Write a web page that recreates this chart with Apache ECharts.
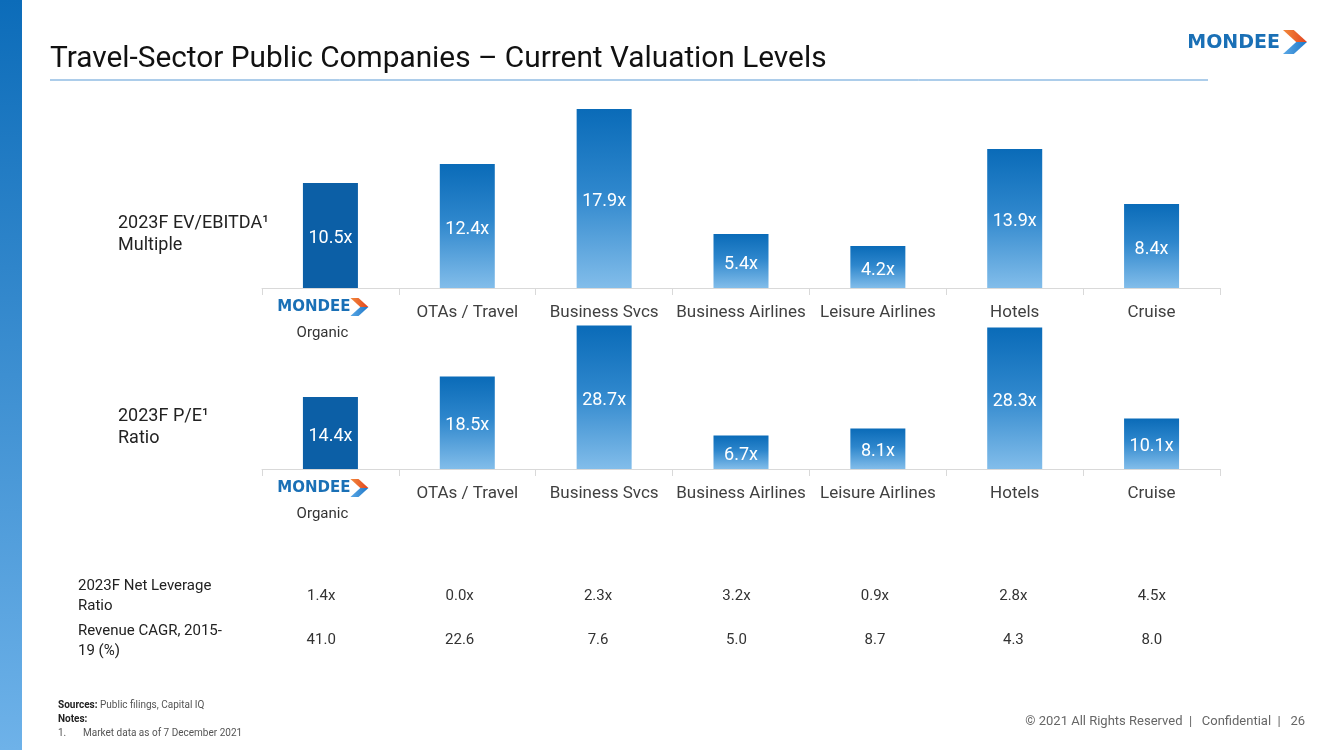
<!DOCTYPE html>
<html>
<head>
<meta charset="utf-8">
<script src="https://cdn.jsdelivr.net/npm/echarts@6/dist/echarts.min.js"></script>
<style>
html,body{margin:0;padding:0;background:#fff;}
#chart{width:1333px;height:750px;}
</style>
</head>
<body>
<div id="chart"></div>
<script>
// ---- data ----
var categories = ['Mondee Organic', 'OTAs / Travel', 'Business Svcs', 'Business Airlines', 'Leisure Airlines', 'Hotels', 'Cruise'];
var evEbitda = [10.5, 12.4, 17.9, 5.4, 4.2, 13.9, 8.4];
var peRatio = [14.4, 18.5, 28.7, 6.7, 8.1, 28.3, 10.1];
var netLeverage = ['1.4x', '0.0x', '2.3x', '3.2x', '0.9x', '2.8x', '4.5x'];
var revenueCagr = ['41.0', '22.6', '7.6', '5.0', '8.7', '4.3', '8.0'];
var chartTitle = 'Travel-Sector Public Companies \u2013 Current Valuation Levels';

var FONT = 'Roboto';
var chart = echarts.init(document.getElementById('chart'), null, {renderer: 'canvas'});

var barGrad = new echarts.graphic.LinearGradient(0, 0, 0, 1, [
  {offset: 0, color: '#0a6bb8'},
  {offset: 0.45, color: '#2d86cc'},
  {offset: 1, color: '#82bdea'}
]);
var mondeeColor = '#0c5fa6';

function barData(vals) {
  return vals.map(function (v, i) {
    return {value: v, itemStyle: {color: i === 0 ? mondeeColor : barGrad}};
  });
}

function catAxis(gridIndex) {
  return {
    type: 'category', gridIndex: gridIndex, data: categories,
    axisLine: {show: true, lineStyle: {color: '#d9d9d9', width: 1}},
    axisTick: {show: true, length: 7, lineStyle: {color: '#d9d9d9'}},
    axisLabel: {
      color: '#404040', fontFamily: FONT, fontSize: 17, margin: 16, interval: 0,
      formatter: function (v, i) { return i === 0 ? '' : v; }
    }
  };
}
function tableAxis(gridIndex, vals) {
  return {
    type: 'category', gridIndex: gridIndex, data: vals,
    axisLine: {show: false}, axisTick: {show: false},
    axisLabel: {color: '#333', fontFamily: FONT, fontSize: 15, margin: 0, interval: 0}
  };
}
var labelStyle = {
  show: true, position: 'inside', color: '#fff', fontFamily: FONT,
  fontSize: 18, fontWeight: 'normal', offset: [0, 3],
  formatter: function (p) { return p.value.toFixed(1) + 'x'; }
};

var option = {
  animation: false,
  backgroundColor: '#fff',
  grid: [
    {left: 262, right: 113, top: 108, height: 180},
    {left: 262, right: 113, top: 319, height: 150},
    {left: 252, right: 112, top: 588, height: 1},
    {left: 252, right: 112, top: 632, height: 1}
  ],
  xAxis: [catAxis(0), catAxis(1), tableAxis(2, netLeverage), tableAxis(3, revenueCagr)],
  yAxis: [
    {type: 'value', gridIndex: 0, min: 0, max: 18, show: false},
    {type: 'value', gridIndex: 1, min: 0, max: 30, show: false},
    {type: 'value', gridIndex: 2, show: false},
    {type: 'value', gridIndex: 3, show: false}
  ],
  series: [
    {type: 'bar', xAxisIndex: 0, yAxisIndex: 0, barWidth: 55, data: barData(evEbitda), label: labelStyle},
    {type: 'bar', xAxisIndex: 1, yAxisIndex: 1, barWidth: 55, data: barData(peRatio), label: labelStyle}
  ]
};
chart.setOption(option);

function chevron(x, y, s) {
  var h = s, w = s;
  return [
    {type: 'polygon', shape: {points: [[x, y], [x + w * 0.45, y], [x + w, y + h / 2], [x + w * 0.55, y + h / 2]]},
     style: {fill: new echarts.graphic.LinearGradient(0, 0, 1, 0, [{offset: 0, color: '#f28a3c'}, {offset: 1, color: '#e2431f'}])}},
    {type: 'polygon', shape: {points: [[x + w * 0.55, y + h / 2], [x + w, y + h / 2], [x + w * 0.45, y + h], [x, y + h]]},
     style: {fill: new echarts.graphic.LinearGradient(0, 0, 1, 0, [{offset: 0, color: '#5aa8e6'}, {offset: 1, color: '#1f78c8'}])}}
  ];
}

var g = [];
// left stripe
g.push({type: 'rect', shape: {x: 0, y: 0, width: 22, height: 750},
  style: {fill: new echarts.graphic.LinearGradient(0, 0, 0, 1, [{offset: 0, color: '#0c6cb9'}, {offset: 1, color: '#6eb2e9'}])}});
// title
g.push({type: 'text', x: 50, y: 60, style: {text: chartTitle, fill: '#111', font: '29.8px ' + FONT, verticalAlign: 'middle'}});
g.push({type: 'line', shape: {x1: 50, y1: 80, x2: 1208, y2: 80}, style: {stroke: '#5b9bd5', lineWidth: 1}});
// header logo
g.push({type: 'text', x: 1280, y: 43, style: {text: 'MONDEE', fill: '#1a70b6', font: 'bold 19px "DejaVu Sans"', align: 'right', verticalAlign: 'middle'}});
g = g.concat(chevron(1283, 30, 24));

// axis logos for first category
[0, 1].forEach(function (ai) {
  var px = chart.convertToPixel({xAxisIndex: ai}, categories[0]);
  var baseY = ai === 0 ? 288 : 469;
  var ly = baseY + 19, oy = baseY + 45;
  g.push({type: 'text', x: px + 20, y: ly, style: {text: 'MONDEE', fill: '#1a70b6', font: 'bold 15px "DejaVu Sans"', align: 'right', verticalAlign: 'middle'}});
  g = g.concat(chevron(px + 20, ly - 9, 18));
  g.push({type: 'text', x: px - 8, y: oy, style: {text: 'Organic', fill: '#333', font: '15px ' + FONT, align: 'center', verticalAlign: 'middle'}});
});

// row labels
function leftLabel(x, y, lines, fs, lh) {
  g.push({type: 'text', x: x, y: y, style: {text: lines.join('\n'), fill: '#222', font: fs + 'px ' + FONT, lineHeight: lh, verticalAlign: 'middle'}});
}
leftLabel(118, 234, ['2023F EV/EBITDA\u00b9', 'Multiple'], 18, 22);
leftLabel(118, 427, ['2023F P/E\u00b9', 'Ratio'], 18, 22);
leftLabel(78, 596, ['2023F Net Leverage', 'Ratio'], 15, 20);
leftLabel(78, 641, ['Revenue CAGR, 2015-', '19 (%)'], 15, 20);

// footnotes
g.push({type: 'text', x: 58, y: 705, style: {text: '{b|Sources:} Public filings, Capital IQ', fill: '#555', font: '10px ' + FONT, verticalAlign: 'middle', rich: {b: {fontWeight: 'bold', fill: '#222', fontSize: 10, fontFamily: FONT}}}});
g.push({type: 'text', x: 58, y: 719, style: {text: 'Notes:', fill: '#222', font: 'bold 10px ' + FONT, verticalAlign: 'middle'}});
g.push({type: 'text', x: 58, y: 733, style: {text: '1.', fill: '#555', font: '10px ' + FONT, verticalAlign: 'middle'}});
g.push({type: 'text', x: 83, y: 733, style: {text: 'Market data as of 7 December 2021', fill: '#555', font: '10px ' + FONT, verticalAlign: 'middle'}});
g.push({type: 'text', x: 1305, y: 722, style: {text: '\u00a9 2021 All Rights Reserved  |   Confidential  |   26', fill: '#666', font: '13px ' + FONT, align: 'right', verticalAlign: 'middle'}});

chart.setOption({graphic: {elements: g}});
</script>
</body>
</html>
